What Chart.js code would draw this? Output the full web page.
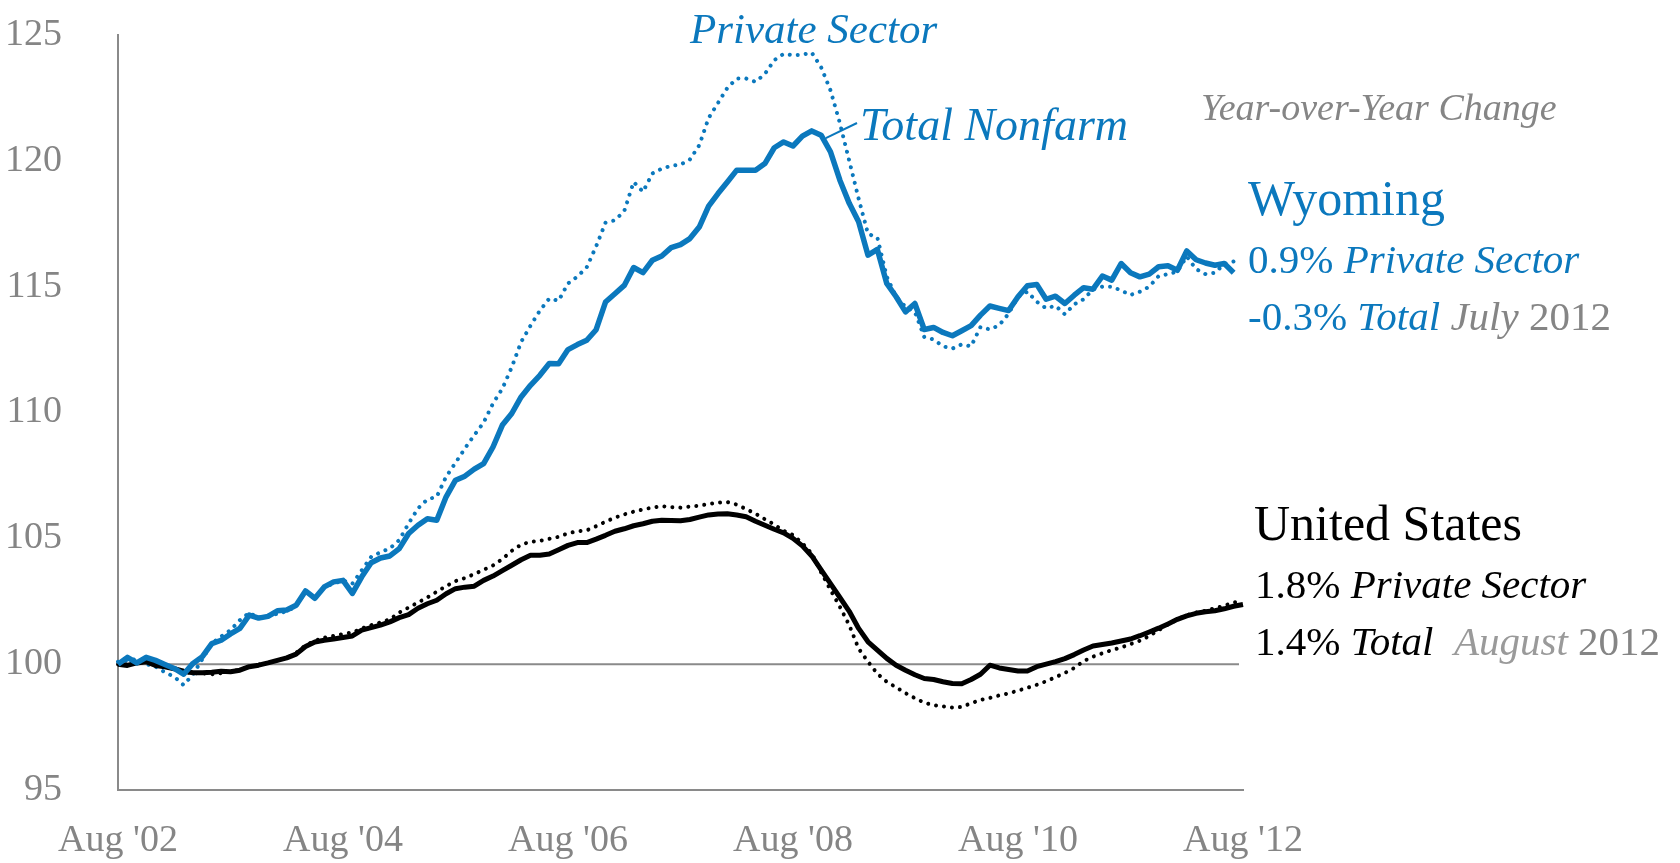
<!DOCTYPE html>
<html>
<head>
<meta charset="utf-8">
<title>Empleo no agrícola: Wyoming vs Estados Unidos</title>
<script src="https://cdn.jsdelivr.net/npm/chart.js@4.4.0/dist/chart.umd.min.js"></script>
<style>
  html, body { margin: 0; padding: 0; background: #ffffff; }
  canvas { display: block; }
</style>
</head>
<body>
<canvas id="chart-empleo" width="1680" height="863"></canvas>
<script>
// 游늵 Índice de empleo, agosto 2002 = 100 (mensual)
const etiquetasEje = ["Aug '02", "Aug '04", "Aug '06", "Aug '08", "Aug '10", "Aug '12"];

// Wyoming: termina en julio 2012
const wyTotal = [
  100.0, 100.27, 100.05, 100.27, 100.15, 99.99, 99.83, 99.6, 100.03, 100.3,
  100.82, 100.95, 101.2, 101.42, 101.95, 101.83, 101.9, 102.12, 102.15, 102.34,
  102.91, 102.62, 103.07, 103.27, 103.33, 102.81, 103.47, 104.03, 104.22, 104.3,
  104.59, 105.19, 105.52, 105.78, 105.72, 106.65, 107.31, 107.47, 107.75, 107.97,
  108.63, 109.5, 109.96, 110.62, 111.08, 111.48, 111.95, 111.94, 112.5, 112.7,
  112.87, 113.29, 114.39, 114.72, 115.05, 115.76, 115.56, 116.05, 116.22, 116.55,
  116.67, 116.91, 117.37, 118.2, 118.7, 119.16, 119.63, 119.63, 119.63, 119.89,
  120.52, 120.75, 120.59, 120.98, 121.19, 121.02, 120.36, 119.23, 118.31, 117.58,
  116.25, 116.48, 115.13, 114.6, 114.0, 114.33, 113.3, 113.38, 113.18, 113.05,
  113.25, 113.45, 113.87, 114.23, 114.14, 114.05, 114.6, 115.04, 115.09, 114.5,
  114.62, 114.33, 114.66, 114.96, 114.9, 115.42, 115.26, 115.92, 115.55, 115.39,
  115.5, 115.79, 115.83, 115.65, 116.42, 116.07, 115.94, 115.85, 115.92, 115.55
];
const wyPrivado = [
  100.1, 100.15, 100.2, 100.0, 99.9, 99.68, 99.5, 99.17, 99.6, 100.2,
  100.82, 101.1, 101.35, 101.75, 102.04, 101.85, 101.92, 102.0, 102.1, 102.3,
  102.9, 102.62, 103.07, 103.2, 103.33, 103.2, 103.73, 104.26, 104.45, 104.6,
  104.93, 105.59, 106.19, 106.55, 106.65, 107.45, 108.0, 108.57, 109.1, 109.6,
  110.36, 110.95, 111.8, 112.8, 113.45, 114.05, 114.53, 114.44, 115.13, 115.4,
  115.77, 116.6, 117.54, 117.64, 118.0, 119.16, 118.77, 119.5, 119.69, 119.8,
  119.85, 120.05, 120.62, 121.7, 122.3, 122.9, 123.27, 123.27, 123.14, 123.45,
  124.0, 124.25, 124.2, 124.22, 124.3, 123.72, 122.8, 121.5, 120.0, 118.5,
  117.1, 116.95, 115.4, 114.6, 114.2, 114.0, 113.0, 112.9, 112.63, 112.54,
  112.71, 112.63, 113.4, 113.3, 113.47, 113.93, 114.6, 114.8, 114.4, 114.14,
  114.24, 113.9, 114.3, 114.5, 114.89, 115.0, 115.0, 114.85, 114.67, 114.8,
  115.0, 115.42, 115.5, 115.6, 116.2, 115.7, 115.5, 115.55, 115.9, 116.0
];

// Estados Unidos: termina en agosto 2012
const usTotal = [
  100.0, 99.95, 100.05, 100.1, 99.95, 99.9, 99.82, 99.72, 99.66, 99.66,
  99.68, 99.72, 99.7, 99.76, 99.9, 99.96, 100.05, 100.15, 100.25, 100.4,
  100.7, 100.88, 100.95, 101.0, 101.06, 101.12, 101.35, 101.45, 101.55, 101.68,
  101.85, 101.97, 102.22, 102.4, 102.54, 102.8, 103.0, 103.06, 103.1, 103.33,
  103.5, 103.72, 103.93, 104.15, 104.33, 104.33, 104.38, 104.55, 104.72, 104.83,
  104.83, 104.97, 105.12, 105.28, 105.38, 105.5, 105.58, 105.68, 105.72, 105.71,
  105.7, 105.75, 105.84, 105.93, 105.97, 105.98, 105.93, 105.86, 105.68, 105.52,
  105.36, 105.22, 105.0, 104.7, 104.3, 103.75, 103.2, 102.65, 102.1, 101.42,
  100.89, 100.56, 100.23, 99.96, 99.76, 99.58, 99.43, 99.39, 99.3, 99.23,
  99.22, 99.39, 99.6, 99.96, 99.85, 99.79, 99.73, 99.73, 99.9, 100.0,
  100.1, 100.22, 100.38, 100.56, 100.72, 100.78, 100.84, 100.92, 101.0, 101.13,
  101.28, 101.43, 101.6, 101.78, 101.92, 102.02, 102.08, 102.12, 102.2, 102.3,
  102.37
];
const usPrivado = [
  100.0, 100.0, 100.05, 100.1, 99.98, 99.9, 99.8, 99.7, 99.64, 99.64,
  99.6, 99.64, 99.7, 99.78, 99.9, 99.98, 100.05, 100.15, 100.25, 100.45,
  100.75, 100.93, 101.05, 101.12, 101.2, 101.26, 101.42, 101.55, 101.66, 101.78,
  102.05, 102.25, 102.45, 102.65, 102.88, 103.1, 103.3, 103.42, 103.58, 103.75,
  103.92, 104.18, 104.5, 104.75, 104.86, 104.9, 104.98, 105.06, 105.2, 105.28,
  105.32, 105.48, 105.66, 105.82, 105.95, 106.06, 106.15, 106.22, 106.28, 106.24,
  106.22, 106.26, 106.3, 106.36, 106.42, 106.44, 106.34, 106.16, 105.98, 105.76,
  105.55, 105.3, 105.13, 104.8, 104.4, 103.65, 102.95, 102.28, 101.55, 100.62,
  100.1, 99.62, 99.3, 99.08, 98.85, 98.65, 98.47, 98.37, 98.32, 98.28,
  98.3, 98.45, 98.58, 98.66, 98.76, 98.84, 98.95, 99.06, 99.18, 99.32,
  99.48, 99.65, 99.85, 100.12, 100.3, 100.43, 100.56, 100.66, 100.8, 100.93,
  101.12, 101.35, 101.58, 101.78, 101.95, 102.05, 102.12, 102.22, 102.32, 102.45,
  102.5
];

const AZUL = '#0b78bd';
const NEGRO = '#000000';
const GRIS = '#858585';
const FUENTE = "'Liberation Serif', 'Times New Roman', serif";

// Categorías mensuales: Aug '02 ... Aug '12
const nombresMes = ['Jan', 'Feb', 'Mar', 'Apr', 'May', 'Jun', 'Jul', 'Aug', 'Sep', 'Oct', 'Nov', 'Dec'];
const meses = [];
for (let i = 0; i < usTotal.length; i++) {
  const k = 7 + i;
  meses.push(nombresMes[k % 12] + " '" + String(2 + Math.floor(k / 12)).padStart(2, '0'));
}

// 游댢 Línea horizontal en 100
const lineaBase = {
  id: 'lineaBase',
  beforeDatasetsDraw(chart) {
    const { ctx, chartArea, scales } = chart;
    const py = scales.y.getPixelForValue(100);
    ctx.save();
    ctx.strokeStyle = '#8a8a8a';
    ctx.lineWidth = 2;
    ctx.beginPath();
    ctx.moveTo(chartArea.left, py);
    ctx.lineTo(chartArea.right - 4, py);
    ctx.stroke();
    ctx.restore();
  }
};

// 游닇 Textos y notas del gráfico
function dibujarRenglon(ctx, x, y, size, partes) {
  let cx = x;
  partes.forEach(([texto, estilo, color]) => {
    ctx.font = `${estilo} ${size}px ${FUENTE}`;
    ctx.fillStyle = color;
    ctx.fillText(texto, cx, y);
    cx += ctx.measureText(texto).width;
  });
}

const notas = {
  id: 'notas',
  afterDraw(chart) {
    const { ctx, scales } = chart;
    ctx.save();
    ctx.textBaseline = 'alphabetic';
    ctx.textAlign = 'left';

    dibujarRenglon(ctx, 690, 43, 43, [['Private Sector', 'italic', AZUL]]);
    dibujarRenglon(ctx, 860, 140, 46, [['Total Nonfarm', 'italic', AZUL]]);

    // guía hacia la serie total de Wyoming
    ctx.strokeStyle = AZUL;
    ctx.lineWidth = 2;
    ctx.beginPath();
    ctx.moveTo(scales.x.getPixelForValue(75.5), scales.y.getPixelForValue(120.9));
    ctx.lineTo(857, 123);
    ctx.stroke();

    dibujarRenglon(ctx, 1201, 120, 38, [['Year-over-Year Change', 'italic', GRIS]]);

    dibujarRenglon(ctx, 1248, 215, 50, [['Wyoming', 'normal', AZUL]]);
    dibujarRenglon(ctx, 1248, 273, 41, [['0.9% ', 'normal', AZUL], ['Private Sector', 'italic', AZUL]]);
    dibujarRenglon(ctx, 1248, 330, 41, [['-0.3% ', 'normal', AZUL], ['Total ', 'italic', AZUL],
      ['July ', 'italic', GRIS], ['2012', 'normal', GRIS]]);

    dibujarRenglon(ctx, 1254, 540, 50, [['United States', 'normal', NEGRO]]);
    dibujarRenglon(ctx, 1255, 598, 41, [['1.8% ', 'normal', NEGRO], ['Private Sector', 'italic', NEGRO]]);
    dibujarRenglon(ctx, 1255, 655, 41, [['1.4% ', 'normal', NEGRO], ['Total  ', 'italic', NEGRO],
      ['August ', 'italic', '#9a9a9a'], ['2012', 'normal', GRIS]]);
    ctx.restore();
  }
};

function serie(datos, color, punteada, ancho) {
  return {
    data: datos,
    borderColor: color,
    borderWidth: ancho,
    borderDash: punteada ? [0.01, 8] : [],
    borderCapStyle: punteada ? 'round' : 'butt',
    borderJoinStyle: 'round',
    pointRadius: 0,
    tension: 0,
    fill: false
  };
}

function renderEmpleo(ctx) {
  const config = {
    type: 'line',
    data: {
      labels: meses,
      datasets: [
        serie(wyTotal, AZUL, false, 5.5),
        serie(usTotal, NEGRO, false, 5),
        serie(wyPrivado, AZUL, true, 4),
        serie(usPrivado, NEGRO, true, 4)
      ]
    },
    options: {
      responsive: false,
      animation: false,
      layout: { padding: { top: 35, right: 437, left: 0, bottom: 0 } },
      plugins: {
        legend: { display: false },
        tooltip: { enabled: false }
      },
      scales: {
        x: {
          type: 'category',
          offset: false,
          grid: { display: false },
          border: { display: true, color: '#8a8a8a', width: 2 },
          afterBuildTicks: (s) => { s.ticks = s.ticks.filter(t => etiquetasEje.includes(meses[t.value])); },
          afterFit: (s) => { s.height = 73; },
          ticks: {
            autoSkip: false,
            maxRotation: 0,
            padding: 20,
            color: GRIS,
            font: { family: FUENTE, size: 38 }
          }
        },
        y: {
          min: 95,
          max: 125,
          grid: { display: false },
          border: { display: true, color: '#8a8a8a', width: 2 },
          afterFit: (s) => {
            s.width = 118;
            s.paddingTop = 0;
            s.paddingBottom = 0;
          },
          ticks: {
            stepSize: 5,
            padding: 48,
            color: GRIS,
            font: { family: FUENTE, size: 38 }
          }
        }
      }
    },
    plugins: [lineaBase, notas]
  };
  return new Chart(ctx, config);
}

renderEmpleo(document.getElementById('chart-empleo'));
</script>
</body>
</html>
